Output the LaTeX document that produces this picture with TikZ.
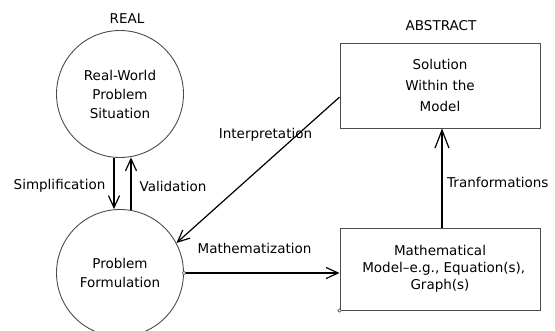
\documentclass[tikz,border=0pt]{standalone}
\usepackage{fontspec}
\setmainfont{DejaVu Sans}
\usetikzlibrary{arrows.meta,calc}
\tikzset{
  lbl/.style={font=\fontsize{13.5}{19}\selectfont, inner sep=0pt, text=black},
  circ/.style={circle, draw=black!70, line width=0.9pt, minimum size=127pt, inner sep=0pt, align=center, font=\fontsize{13.5}{19}\selectfont},
  boxn/.style={rectangle, draw=black!70, line width=0.9pt, minimum width=200pt, inner sep=0pt, align=center},
  conn/.style={draw=black, line width=1.2pt, -{Straight Barb[length=12pt,width=11pt,line width=1.2pt]}},
  dot/.style={circle, draw=black!70, fill=white, line width=0.6pt, minimum size=3.5pt, inner sep=0pt}
}
\begin{document}
\begin{tikzpicture}[x=1pt,y=-1pt]
\useasboundingbox (0,0) rectangle (555,330);
\node[circ] (rw) at (120,94) {Real-World\\Problem\\Situation};
\node[circ] (pf) at (120,273) {Problem\\Formulation};
\node[boxn, minimum height=85pt, font=\fontsize{13.5}{21}\selectfont] (sol) at (440,85.5) {Solution\\Within the\\Model};
\node[boxn, minimum height=82pt, font=\fontsize{13.5}{17}\selectfont] (mm) at (440,269) {Mathematical\\\;\;Model--e.g., Equation(s),\\Graph(s)};
\node[lbl] (real) at (127,19) {REAL};
\node[lbl] (abs) at (441,26) {ABSTRACT};
% simplification / validation
\draw[conn] ($(rw.south)+(-6,0)$) -- ($(pf.north)+(-6,0)$);
\draw[conn] ($(pf.north)+(11,0.5)$) -- ($(rw.south)+(11,-0.5)$);
\node[lbl] (simp) at (59.5,186) {Simplification};
\node[lbl] (val) at (173,186) {Validation};
% interpretation
\coordinate (istart) at ($(sol.north west)!0.635!(sol.south west)$);
\draw[conn] (istart) -- (pf.28);
\node[lbl] (interp) at (265.5,135) {Interpretation};
% mathematization
\draw[conn] (pf.east) -- (pf.east -| mm.west);
\node[lbl] (math) at (254.5,248) {Mathematization};
% transformations
\draw[draw=black, line width=1.2pt, -{Straight Barb[length=18pt,width=14pt,line width=1.2pt]}] ($(mm.north)+(2,0)$) -- ($(sol.south)+(2,0)$);
\node[lbl, anchor=west] (trans) at (447,182) {Tranformations};
% small markers
\node[dot] (d1) at (pf.east) {};
\node[dot] (d2) at (mm.south west) {};
\end{tikzpicture}
\end{document}
